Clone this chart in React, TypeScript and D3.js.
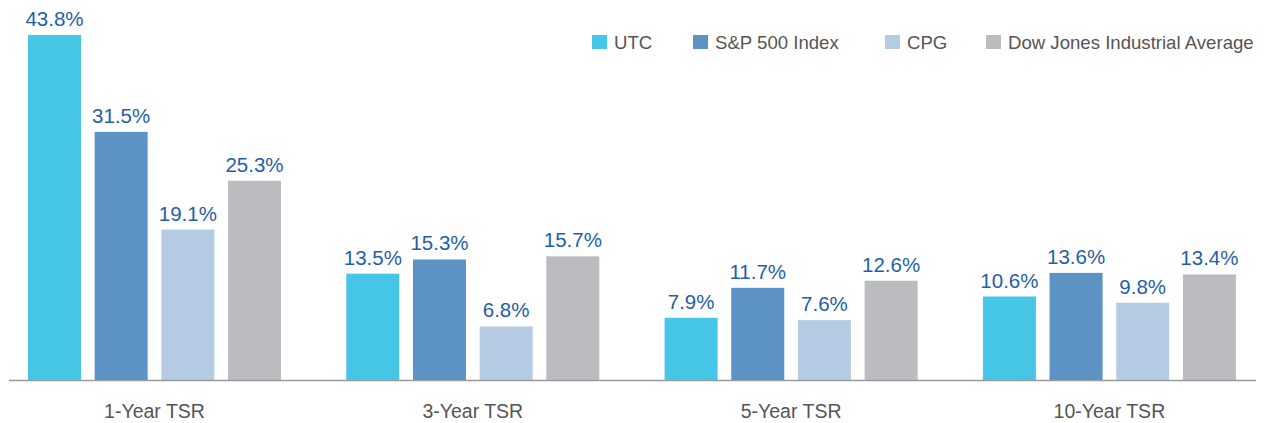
import React from "react";
import * as d3 from "d3";

const categories = ["1-Year TSR", "3-Year TSR", "5-Year TSR", "10-Year TSR"];
const seriesNames = ["UTC", "S&P 500 Index", "CPG", "Dow Jones Industrial Average"];
const utc = [43.8, 13.5, 7.9, 10.6];
const sp500 = [31.5, 15.3, 11.7, 13.6];
const cpg = [19.1, 6.8, 7.6, 9.8];
const djia = [25.3, 15.7, 12.6, 13.4];
const seriesValues = [utc, sp500, cpg, djia];
const colors = ["#45C6E6", "#5C92C4", "#B4CBE3", "#BBBCC0"];

const W = 1267;
const H = 423;
const baseY = 380;
const FONT = "'Liberation Sans', Arial, Helvetica, sans-serif";

export default function App() {
  const groupStep = 318.3;
  const x0 = d3
    .scaleBand<string>()
    .domain(categories)
    .range([154.5 - groupStep / 2, 154.5 - groupStep / 2 + groupStep * 4])
    .padding(0);
  const innerW = 253;
  const off = (x0.bandwidth() - innerW) / 2;
  const x1 = d3
    .scaleBand<string>()
    .domain(seriesNames)
    .range([off, off + innerW])
    .paddingInner(0.205)
    .paddingOuter(0);
  const y = d3.scaleLinear().domain([0, 43.8]).range([baseY, 35]);

  const legendX = [592, 693, 885, 986];

  return (
    <svg
      width={W}
      height={H}
      style={{ position: "absolute", left: 0, top: 0, display: "block" }}
      fontFamily={FONT}
    >
      <rect width={W} height={H} fill="#fff" />
      {categories.map((c, ci) => (
        <g key={c} transform={`translate(${x0(c)},0)`}>
          {seriesNames.map((s, si) => {
            const v = seriesValues[si][ci];
            const bx = x1(s)!;
            const by = y(v);
            return (
              <g key={s}>
                <rect x={bx} y={by} width={x1.bandwidth()} height={baseY - by} fill={colors[si]} />
                <text
                  x={bx + x1.bandwidth() / 2}
                  y={by - 9}
                  textAnchor="middle"
                  fontSize={20.5}
                  fill="#1F5FA6"
                >
                  {v.toFixed(1)}%
                </text>
              </g>
            );
          })}
          <text
            x={x0.bandwidth() / 2}
            y={418}
            textAnchor="middle"
            fontSize={19.5}
            fill="#555"
          >
            {c}
          </text>
        </g>
      ))}
      <line x1={9} x2={1256} y1={baseY + 0.5} y2={baseY + 0.5} stroke="#9A9A9A" strokeWidth={1.5} />
      {seriesNames.map((s, i) => (
        <g key={s} transform={`translate(${legendX[i]},35)`}>
          <rect x={0} y={0} width={15} height={14} fill={colors[i]} />
          <text x={22} y={13.5} fontSize={18.6} fill="#555">
            {s}
          </text>
        </g>
      ))}
    </svg>
  );
}
